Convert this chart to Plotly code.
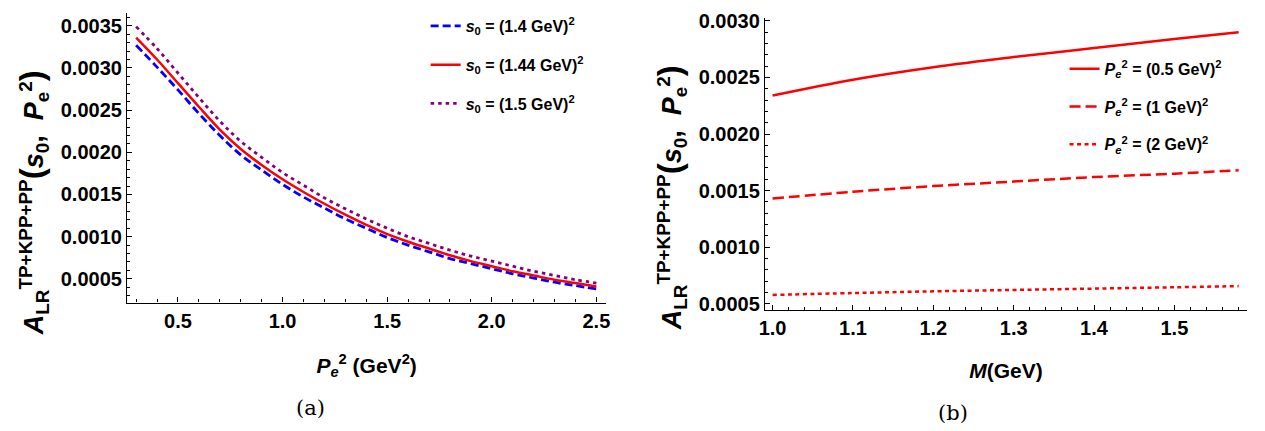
import plotly.graph_objects as go

# ---------------- data: panel (a) ----------------
pe2 = [0.3, 0.4, 0.5, 0.6, 0.7, 0.8, 0.9, 1.0, 1.1, 1.2, 1.3, 1.4, 1.5,
       1.6, 1.7, 1.8, 1.9, 2.0, 2.1, 2.2, 2.3, 2.4, 2.5]
a_s14 = [0.00327, 0.00301, 0.00274, 0.00246, 0.00220, 0.00197, 0.00179, 0.00162,
         0.00147, 0.00134, 0.00121, 0.00110, 0.00099, 0.00090, 0.00082, 0.00074,
         0.00068, 0.00062, 0.00056, 0.00051, 0.00046, 0.00042, 0.00038]
a_s144 = [0.00336, 0.00310, 0.00282, 0.00254, 0.00227, 0.00204, 0.00185, 0.00168,
          0.00153, 0.00139, 0.00126, 0.00114, 0.00103, 0.00094, 0.00086, 0.00078,
          0.00071, 0.00065, 0.00059, 0.00054, 0.00049, 0.00045, 0.00041]
a_s15 = [0.00349, 0.00323, 0.00294, 0.00265, 0.00237, 0.00213, 0.00194, 0.00176,
         0.00161, 0.00146, 0.00133, 0.00121, 0.00110, 0.00100, 0.00092, 0.00084,
         0.00077, 0.00071, 0.00065, 0.00059, 0.00054, 0.00049, 0.00045]

# ---------------- data: panel (b) ----------------
mass = [1.0, 1.1, 1.2, 1.3, 1.4, 1.5, 1.58]
b_p05 = [0.00234, 0.00248, 0.00259, 0.00268, 0.00276, 0.00284, 0.00290]
b_p1 = [0.00143, 0.00149, 0.00154, 0.00158, 0.00162, 0.00165, 0.00168]
b_p2 = [0.000578, 0.000595, 0.000610, 0.000622, 0.000634, 0.000646, 0.000656]

BLUE, RED, PURPLE = "#0000FF", "#FF0000", "#800080"
SANS = "Liberation Sans, Arial, sans-serif"

fig = go.Figure()

fig.add_trace(go.Scatter(x=pe2, y=a_s14, mode="lines", line_shape="spline",
                         line=dict(color=BLUE, width=2.8, dash="8px,4px"),
                         name="<i>s</i><sub>0</sub> = (1.4 GeV)<sup>2</sup>",
                         legend="legend", legendgroup="a1", xaxis="x", yaxis="y"))
fig.add_trace(go.Scatter(x=pe2, y=a_s144, mode="lines", line_shape="spline",
                         line=dict(color=RED, width=2.5),
                         name="<i>s</i><sub>0</sub> = (1.44 GeV)<sup>2</sup>",
                         legend="legend", legendgroup="a2", xaxis="x", yaxis="y"))
fig.add_trace(go.Scatter(x=pe2, y=a_s15, mode="lines", line_shape="spline",
                         line=dict(color=PURPLE, width=2.8, dash="3.5px,4px"),
                         name="<i>s</i><sub>0</sub> = (1.5 GeV)<sup>2</sup>",
                         legend="legend", legendgroup="a3", xaxis="x", yaxis="y"))

fig.add_trace(go.Scatter(x=mass, y=b_p05, mode="lines", line_shape="spline",
                         line=dict(color=RED, width=2.5),
                         name="<i>P<sub>e</sub></i><sup>2</sup> = (0.5 GeV)<sup>2</sup>",
                         legend="legend2", legendgroup="b1", xaxis="x2", yaxis="y2"))
fig.add_trace(go.Scatter(x=mass, y=b_p1, mode="lines", line_shape="spline",
                         line=dict(color=RED, width=2.5, dash="11px,5px"),
                         name="<i>P<sub>e</sub></i><sup>2</sup> = (1 GeV)<sup>2</sup>",
                         legend="legend2", legendgroup="b2", xaxis="x2", yaxis="y2"))
fig.add_trace(go.Scatter(x=mass, y=b_p2, mode="lines", line_shape="spline",
                         line=dict(color=RED, width=2.5, dash="4px,3.5px"),
                         name="<i>P<sub>e</sub></i><sup>2</sup> = (2 GeV)<sup>2</sup>",
                         legend="legend2", legendgroup="b3", xaxis="x2", yaxis="y2"))

W, H = 1265, 431
tickfont = dict(family=SANS, size=20, color="black", weight="bold")

def axis_common(dtick, fmt, minor_dtick):
    return dict(showline=True, linecolor="black", linewidth=1.3, mirror=False,
                ticks="inside", ticklen=5, tickwidth=1.2, tickcolor="black",
                tick0=0, dtick=dtick, tickformat=fmt, tickfont=tickfont,
                showgrid=False, zeroline=False,
                minor=dict(ticks="inside", ticklen=3, tickwidth=1, tickcolor="black",
                           tick0=0, dtick=minor_dtick, showgrid=False))

title_font = dict(family=SANS, size=21, color="black", weight="bold")
legend_font = dict(family=SANS, size=16, color="black", weight="bold")

fig.update_layout(
    width=W, height=H, margin=dict(l=0, r=0, t=0, b=0),
    paper_bgcolor="white", plot_bgcolor="white",
    xaxis=dict(domain=[122 / W, 605 / W], range=[0.2566, 2.547], anchor="y",
               title=dict(text="<b><i>P<sub>e</sub></i><sup>2</sup> (GeV<sup>2</sup>)</b>",
                          font=title_font, standoff=27),
               **axis_common(0.5, ".1f", 0.1)),
    yaxis=dict(domain=[(H - 303) / H, (H - 5) / H], range=[0.000219, 0.003653], anchor="x",
               **axis_common(0.0005, ".4f", 0.0001)),
    xaxis2=dict(domain=[765 / W, 1251 / W], range=[0.9905, 1.5905], anchor="y2",
                title=dict(text="<b><i>M</i>(GeV)</b>", font=title_font, standoff=24),
                **axis_common(0.1, ".1f", 0.02)),
    yaxis2=dict(domain=[(H - 311) / H, (H - 10) / H], range=[0.000442, 0.003028], anchor="x2",
                **axis_common(0.0005, ".4f", 0.0001)),
    legend=dict(x=423 / W, y=(H - 1) / H, xanchor="left", yanchor="top",
                font=legend_font, bgcolor="rgba(0,0,0,0)", tracegroupgap=15),
    legend2=dict(x=1067 / W, y=(H - 45) / H, xanchor="left", yanchor="top",
                 font=legend_font, bgcolor="rgba(0,0,0,0)", tracegroupgap=14),
    showlegend=True,
)

ytitle = ("<b><i>A</i><sub>LR</sub><sup>TP+KPP+PP</sup>"
          "<span style='font-size:33px'>(</span><i>s</i><sub>0</sub>,  "
          "<i>P</i><sub>e</sub><sup>2</sup><span style='font-size:33px'>)</span></b>")
for xc, yc in [(28, 200), (670, 195)]:
    fig.add_annotation(text=ytitle, xref="paper", yref="paper", x=xc / W, y=1 - yc / H,
                       xanchor="center", yanchor="middle", textangle=-90, showarrow=False,
                       font=dict(family=SANS, size=27, color="black", weight="bold"))

for lab, xc, yc in [("(a)", 307, 411), ("(b)", 955, 417)]:
    fig.add_annotation(text=lab, xref="paper", yref="paper", x=xc / W, y=1 - yc / H,
                       xanchor="center", yanchor="middle", showarrow=False,
                       font=dict(family="DejaVu Serif, Liberation Serif, serif", size=21,
                                 color="black"))

fig.write_html("out.html")
